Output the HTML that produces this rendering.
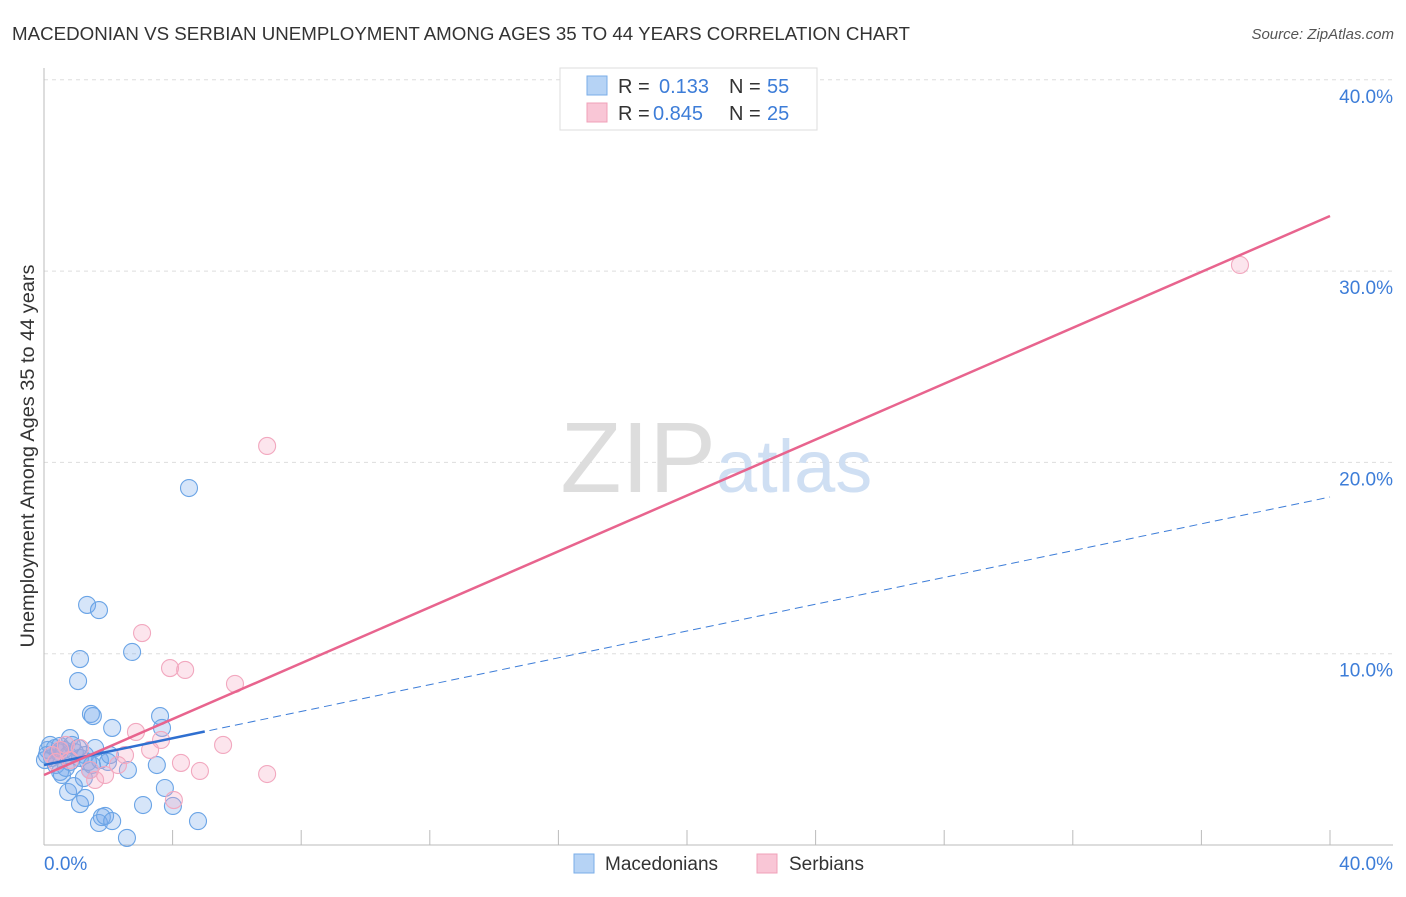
<!DOCTYPE html>
<html><head><meta charset="utf-8"><style>
body{margin:0;background:#fff;font-family:"Liberation Sans",sans-serif}
svg text{font-family:"Liberation Sans",sans-serif}
</style></head><body>
<svg id="chart" width="1406" height="892">
<text x="12" y="40" font-size="18" fill="#333" textLength="898" lengthAdjust="spacingAndGlyphs">MACEDONIAN VS SERBIAN UNEMPLOYMENT AMONG AGES 35 TO 44 YEARS CORRELATION CHART</text>
<text x="1394" y="39" font-size="15" fill="#555" font-style="italic" text-anchor="end">Source: ZipAtlas.com</text>
<text x="0" y="0" transform="translate(34,456) rotate(-90)" font-size="19" fill="#333" text-anchor="middle" textLength="383" lengthAdjust="spacingAndGlyphs">Unemployment Among Ages 35 to 44 years</text>
<g id="grid"></g>
<text x="716" y="492" font-size="100" fill="#ddd" text-anchor="end" font-family="Liberation Serif">ZIP</text>
<text x="716" y="492" font-size="74" fill="#cfdff3">atlas</text>
<g id="pts"></g>
<g id="lines"></g>
<g>
<rect x="560" y="68" width="257" height="62" fill="#fff" stroke="#ddd"/>
<rect x="587" y="76" width="20" height="19" fill="#b6d3f5" stroke="#7aaee8"/>
<rect x="587" y="103" width="20" height="19" fill="#f9c6d6" stroke="#f0a0b8"/>
<text x="618" y="93" font-size="20" fill="#333">R = </text><text x="659" y="93" font-size="20" fill="#3d7dd8">0.133</text>
<text x="729" y="93" font-size="20" fill="#333">N = </text><text x="767" y="93" font-size="20" fill="#3d7dd8">55</text>
<text x="618" y="120" font-size="20" fill="#333">R = </text><text x="653" y="120" font-size="20" fill="#3d7dd8">0.845</text>
<text x="729" y="120" font-size="20" fill="#333">N = </text><text x="767" y="120" font-size="20" fill="#3d7dd8">25</text>
</g>
<g>
<rect x="574" y="854" width="20" height="19" fill="#b6d3f5" stroke="#7aaee8"/>
<text x="605" y="870" font-size="19" fill="#333">Macedonians</text>
<rect x="757" y="854" width="20" height="19" fill="#f9c6d6" stroke="#f0a0b8"/>
<text x="789" y="870" font-size="19" fill="#333">Serbians</text>
</g>
<text x="44" y="870" font-size="19" fill="#3d7dd8">0.0%</text>
<text x="1393" y="870" font-size="19" fill="#3d7dd8" text-anchor="end">40.0%</text>
</svg>
<script>
const yTicks=[10,20,30,40];
const yTickLabels=["10.0%","20.0%","30.0%","40.0%"];
const xTicks=[4,8,12,16,20,24,28,32,36,40];
const macX=[1.34,1.71,1.12,1.06,2.74,4.51,1.46,1.52,2.12,3.61,3.67,0.81,1.59,2.61,3.51,3.76,3.08,4.01,4.79,2.58,1.80,1.71,1.90,2.12,1.12,1.28,0.75,0.93,1.24,0.12,0.25,0.37,0.50,0.56,0.68,0.81,0.96,1.12,1.43,1.74,1.99,0.19,0.34,0.44,0.50,0.62,0.75,0.87,1.06,1.28,1.37,1.49,0.03,0.09,2.05];
const macY=[12.55,12.28,9.72,8.57,10.09,18.66,6.85,6.74,6.12,6.74,6.12,5.59,5.07,3.92,4.18,2.98,2.09,2.04,1.25,0.37,1.46,1.15,1.52,1.25,2.14,2.46,2.77,3.08,3.50,4.97,4.55,4.18,3.82,3.66,4.03,4.34,4.86,4.55,3.92,4.44,4.34,5.23,5.07,4.86,5.18,4.97,4.70,5.23,5.07,4.70,4.34,4.18,4.44,4.70,4.70];
const serX=[6.94,37.20,3.05,3.92,4.39,5.94,2.86,3.64,5.57,3.30,4.26,4.85,6.94,2.52,1.90,1.59,1.43,0.50,0.25,0.81,1.12,0.68,4.04,2.30,0.37];
const serY=[20.86,30.32,11.08,9.25,9.15,8.42,5.91,5.49,5.23,4.97,4.29,3.87,3.71,4.70,3.66,3.40,3.92,4.97,4.70,4.44,5.07,5.23,2.35,4.18,4.34];
const macTrend=[4.18,18.19]; const macSolidEnd=5.0;
const serTrend=[3.66,32.88];
const NS='http://www.w3.org/2000/svg';
const X=v=>44+v*32.15, Y=v=>845-v*19.13;
function mk(t,a,p){const e=document.createElementNS(NS,t);for(const k in a)e.setAttribute(k,a[k]);p.appendChild(e);return e;}
const g=document.getElementById('grid');
yTicks.forEach((t,i)=>{
 const l=mk('line',{x1:44,x2:1393,y1:Y(t),y2:Y(t),stroke:'#ddd','stroke-dasharray':'4,4'},g);
 
 
 const tx=mk('text',{x:1393,y:Y(t)+23,'font-size':19,fill:'#3d7dd8','text-anchor':'end'},g);
 tx.textContent=yTickLabels[i];
 
 
});
const ax=mk('line',{x1:44,x2:44,y1:68,y2:845,stroke:'#bbb'},g);


const bx=mk('line',{x1:44,x2:1393,y1:845,y2:845,stroke:'#bbb'},g);


xTicks.forEach(t=>{
 const l=mk('line',{x1:X(t),x2:X(t),y1:830,y2:845,stroke:'#bbb'},g);
 
 
});
const p=document.getElementById('pts');
macX.forEach((v,i)=>{
 const c=mk('circle',{cx:X(v),cy:Y(macY[i]),r:8.5,fill:'rgba(120,170,235,0.3)',stroke:'#6aa4e6','stroke-width':1.1},p);
 
 
});
serX.forEach((v,i)=>{
 const c=mk('circle',{cx:X(v),cy:Y(serY[i]),r:8.5,fill:'rgba(245,170,195,0.3)',stroke:'#f2a8bf','stroke-width':1.1},p);
 
 
});
const L=document.getElementById('lines');
const mt=v=>macTrend[0]+(macTrend[1]-macTrend[0])*v/40;
const d1=mk('line',{x1:X(0),y1:Y(mt(0)),x2:X(40),y2:Y(mt(40)),stroke:'#3d7dd8','stroke-width':1,'stroke-dasharray':'8,5'},L);


const s1=mk('line',{x1:X(0),y1:Y(mt(0)),x2:X(macSolidEnd),y2:Y(mt(macSolidEnd)),stroke:'#2f6fd0','stroke-width':2.5},L);


const s2=mk('line',{x1:X(0),y1:Y(serTrend[0]),x2:X(40),y2:Y(serTrend[1]),stroke:'#e8648e','stroke-width':2.5},L);


</script>
</body></html>
